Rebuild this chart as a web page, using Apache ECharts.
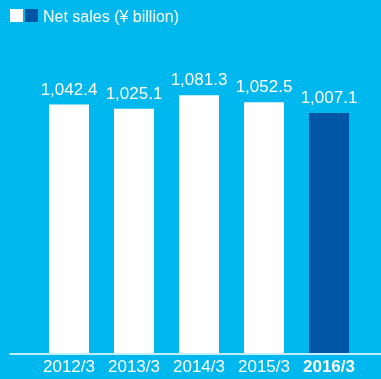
<!DOCTYPE html>
<html>
<head>
<meta charset="utf-8">
<script src="https://cdn.jsdelivr.net/npm/echarts@6/dist/echarts.min.js"></script>
<style>
  html, body { margin: 0; padding: 0; background: #00B8EE; }
  #chart { width: 381px; height: 379px; }
</style>
</head>
<body>
<div id="chart"></div>
<script>
// Fiscal years and net sales (¥ billion)
const categories = ['2012/3', '2013/3', '2014/3', '2015/3', '2016/3'];
const netSales = [1042.4, 1025.1, 1081.3, 1052.5, 1007.1];
const seriesName = 'Net sales (¥ billion)';

const lastIdx = categories.length - 1;
const priorData = netSales.map((v, i) => (i === lastIdx ? '-' : v));
const currentData = netSales.map((v, i) => (i === lastIdx ? v : '-'));

const FONT = '"Liberation Sans", Arial, Helvetica, sans-serif';
const BG = '#00B8EE';
const DARK = '#0055A5';

const labelFmt = p => p.value.toLocaleString('en-US', { minimumFractionDigits: 1, maximumFractionDigits: 1 });

const chart = echarts.init(document.getElementById('chart'));
chart.setOption({
  backgroundColor: BG,
  animation: false,
  // Key: white swatch = earlier years, dark swatch = latest year
  title: {
    text: seriesName,
    left: 38,
    top: 5,
    textStyle: { color: '#fff', fontSize: 16, fontWeight: 'normal', fontFamily: FONT }
  },
  graphic: [
    { type: 'rect', left: 10, top: 9, shape: { width: 13, height: 13 }, style: { fill: '#fff' } },
    { type: 'rect', left: 25, top: 9, shape: { width: 13, height: 13 }, style: { fill: DARK } }
  ],
  grid: [
    { left: 36.5, right: 19.5, top: 67, bottom: 26 },
    { left: 10, right: 0, top: 67, bottom: 25 }
  ],
  xAxis: [
    {
      type: 'category',
      gridIndex: 0,
      data: categories,
      axisLine: { show: false },
      axisTick: { show: false },
      axisLabel: {
        interval: 0,
        color: '#fff',
        fontSize: 17,
        fontFamily: FONT,
        margin: 6,
        formatter: (v, i) => (i === lastIdx ? '{b|' + v + '}' : v),
        rich: { b: { fontWeight: 'bold', fontSize: 17, fontFamily: FONT, color: '#fff' } }
      }
    },
    {
      type: 'value',
      gridIndex: 1,
      min: 0,
      max: 1,
      axisLine: { show: true, lineStyle: { color: '#fff', width: 1.5 } },
      axisTick: { show: false },
      axisLabel: { show: false },
      splitLine: { show: false }
    }
  ],
  yAxis: [
    { type: 'value', gridIndex: 0, min: 0, max: 1200, show: false, splitLine: { show: false } },
    { type: 'value', gridIndex: 1, show: false, splitLine: { show: false } }
  ],
  series: [
    {
      name: seriesName,
      type: 'bar',
      stack: 'sales',
      barWidth: 40,
      data: priorData,
      itemStyle: { color: '#fff' },
      label: { show: true, position: 'top', distance: 6, color: '#fff', fontSize: 17, fontFamily: FONT, formatter: labelFmt }
    },
    {
      name: seriesName,
      type: 'bar',
      stack: 'sales',
      barWidth: 40,
      data: currentData,
      itemStyle: { color: DARK },
      label: { show: true, position: 'top', distance: 6, color: '#fff', fontSize: 17, fontFamily: FONT, formatter: labelFmt }
    }
  ]
});
</script>
</body>
</html>
